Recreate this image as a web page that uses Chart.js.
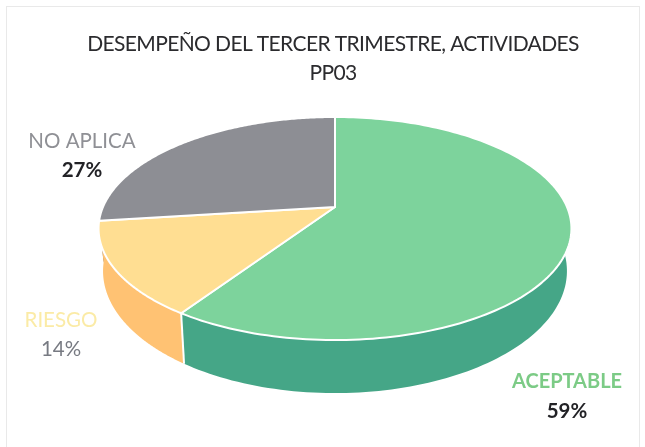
<!DOCTYPE html>
<html><head><meta charset="utf-8">
<style>html,body{margin:0;padding:0;background:#fff}canvas{display:block;filter:blur(0.45px)}</style>
<script src="https://cdn.jsdelivr.net/npm/chart.js@4"></script></head>
<body><canvas id="c" width="645" height="447"></canvas>
<script>
const categories = ['ACEPTABLE', 'RIESGO', 'NO APLICA'];
const values = [59.4, 13.6, 27];
const percentLabels = ['59%', '14%', '27%'];
const titleLines = ['DESEMPEÑO DEL TERCER TRIMESTRE, ACTIVIDADES', 'PP03'];
const topColors = ['#7DD39C', '#FFDE92', '#8D8E94'];
const sideColors = ['#45A687', '#FFC273', '#6E6F75'];
const nameColors = ['#7CCB86', '#FBEBA6', '#8F9095'];
const percentColors = ['#222226', '#777A82', '#222226'];
const labelSpots = [[567, 382], [61, 320], [82, 141]];

// perspective projection of the pie disc
const apex = {x: 335, y: 207}, K = -0.193, A = 107.4, C = 232;
function rim(theta) {
  const X = Math.sin(theta), Y = -Math.cos(theta), w = 1 + K * Y;
  return {x: apex.x + C * X / w, y: apex.y + A * Y / w};
}
const TC = {x: 334.5, y: 228.5}, SX = 232 / 236.5, SY = 122 / 111.5, DY = 42.5;
function lower(theta) {
  const p = rim(theta);
  return {x: TC.x + (p.x - TC.x) * SX, y: TC.y + (p.y - TC.y) * SY + DY};
}
const pie3d = {
  id: 'pie3d',
  beforeDraw(chart) {
    const c = chart.ctx;
    c.fillStyle = '#fff'; c.fillRect(0, 0, 645, 447);
    c.strokeStyle = '#e9e9e9'; c.lineWidth = 1;
    c.strokeRect(6.5, 6.5, 633, 460);
    c.letterSpacing = '-0.62px';
  },
  beforeDatasetDraw(chart) {
    const c = chart.ctx, arcs = chart.getDatasetMeta(0).data;
    const ranges = arcs.map(a => [a.startAngle + Math.PI / 2, a.endAngle + Math.PI / 2]);
    const N = 160;
    c.save();
    // side wall
    [2, 0, 1].forEach(i => {
      const r = ranges[i];
      c.beginPath();
      for (let k = 0; k <= N; k++) {
        const p = rim(r[0] + (r[1] - r[0]) * k / N);
        k ? c.lineTo(p.x, p.y) : c.moveTo(p.x, p.y);
      }
      for (let k = N; k >= 0; k--) {
        const p = lower(r[0] + (r[1] - r[0]) * k / N);
        c.lineTo(p.x, p.y);
      }
      c.closePath();
      c.fillStyle = sideColors[i];
      c.fill();
    });
    // white seam on the wall between the first two slices
    const seam = rim(ranges[1][0]), seamL = lower(ranges[1][0]);
    c.strokeStyle = '#fff'; c.lineWidth = 2;
    c.beginPath(); c.moveTo(seam.x, seam.y); c.lineTo(seamL.x, seamL.y); c.stroke();
    // top face
    ranges.forEach((r, i) => {
      c.beginPath();
      c.moveTo(apex.x, apex.y);
      for (let k = 0; k <= N; k++) {
        const p = rim(r[0] + (r[1] - r[0]) * k / N);
        c.lineTo(p.x, p.y);
      }
      c.closePath();
      c.fillStyle = topColors[i];
      c.fill();
      c.strokeStyle = '#fff';
      c.lineWidth = 2;
      c.lineJoin = 'round';
      c.stroke();
    });
    c.restore();
    return false;
  },
  afterDraw(chart) {
    const c = chart.ctx;
    c.save();
    c.letterSpacing = '0px';
    c.textAlign = 'center'; c.textBaseline = 'middle';
    categories.forEach((name, i) => {
      const s = labelSpots[i];
      c.font = (i === 0 ? 'bold 20px' : '20.5px') + ' Lato';
      c.fillStyle = nameColors[i];
      c.fillText(name, s[0], s[1]);
      c.font = (i === 1 ? '' : 'bold ') + '20.5px Lato';
      c.fillStyle = percentColors[i];
      c.fillText(percentLabels[i], s[0], s[1] + 29.5);
    });
    c.restore();
  }
};
new Chart(document.getElementById('c'), {
  type: 'pie',
  data: {labels: categories, datasets: [{data: values, backgroundColor: topColors, borderColor: '#fff'}]},
  options: {
    responsive: false, animation: false,
    layout: {padding: {left: 21}},
    plugins: {
      legend: {display: false}, tooltip: {enabled: false},
      title: {display: true, text: titleLines, color: '#2b2b2e', align: 'center',
        font: {family: 'Lato', size: 21, weight: 'normal', lineHeight: 1.38},
        padding: {top: 30, bottom: 10}}
    }
  },
  plugins: [pie3d]
});
</script></body></html>
